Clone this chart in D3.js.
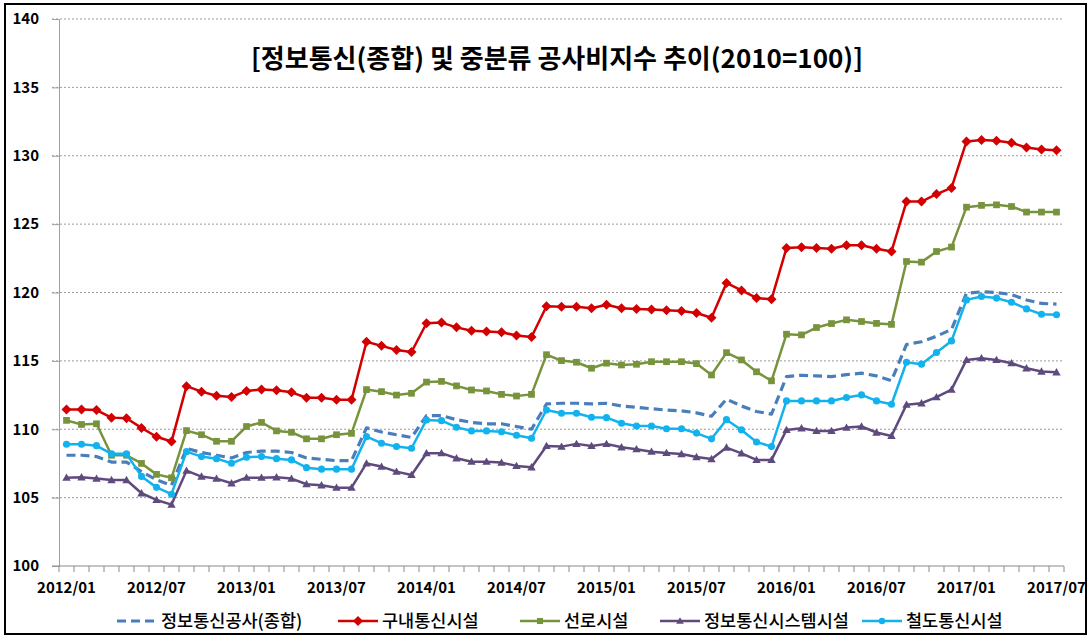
<!DOCTYPE html>
<html><head><meta charset="utf-8">
<script src="https://d3js.org/d3.v7.min.js"></script>
<style>
html,body{margin:0;padding:0;background:#fff;}
svg{display:block;}
text{font-family:"Noto Sans CJK KR","Noto Sans",sans-serif;}
</style></head>
<body><svg id="c" width="1089" height="636"></svg>
<script>
const months = ["2012/01","2012/02","2012/03","2012/04","2012/05","2012/06","2012/07","2012/08","2012/09","2012/10","2012/11","2012/12",
"2013/01","2013/02","2013/03","2013/04","2013/05","2013/06","2013/07","2013/08","2013/09","2013/10","2013/11","2013/12",
"2014/01","2014/02","2014/03","2014/04","2014/05","2014/06","2014/07","2014/08","2014/09","2014/10","2014/11","2014/12",
"2015/01","2015/02","2015/03","2015/04","2015/05","2015/06","2015/07","2015/08","2015/09","2015/10","2015/11","2015/12",
"2016/01","2016/02","2016/03","2016/04","2016/05","2016/06","2016/07","2016/08","2016/09","2016/10","2016/11","2016/12",
"2017/01","2017/02","2017/03","2017/04","2017/05","2017/06","2017/07"];
const xTickLabels = ["2012/01","2012/07","2013/01","2013/07","2014/01","2014/07","2015/01","2015/07","2016/01","2016/07","2017/01","2017/07"];
const yTicks = [100,105,110,115,120,125,130,135,140];
const seriesNames = ["정보통신공사(종합)","구내통신시설","선로시설","정보통신시스템시설","철도통신시설"];
const titleText = "[정보통신(종합) 및 중분류 공사비지수 추이(2010=100)]";

const composite = [108.1,108.1,108.0,107.6,107.6,106.9,106.3,105.9,108.6,108.3,
108.1,107.9,108.3,108.4,108.4,108.3,107.9,107.8,107.7,107.7,
110.1,109.8,109.6,109.4,111.0,111.0,110.7,110.5,110.4,110.4,
110.2,110.0,111.85,111.9,111.9,111.85,111.9,111.7,111.6,111.5,
111.4,111.35,111.2,110.95,112.2,111.7,111.3,111.1,113.85,113.95,
113.9,113.85,114.0,114.1,113.9,113.55,116.2,116.4,116.8,117.3,
119.95,120.05,120.0,119.85,119.45,119.2,119.15];
const premises = [111.45,111.45,111.4,110.85,110.8,110.1,109.45,109.1,113.15,112.75,
112.45,112.35,112.8,112.9,112.85,112.7,112.3,112.3,112.15,112.15,
116.4,116.1,115.8,115.65,117.75,117.8,117.45,117.2,117.15,117.1,
116.85,116.75,119.0,118.95,118.95,118.85,119.1,118.85,118.8,118.75,
118.7,118.65,118.5,118.15,120.7,120.15,119.6,119.5,123.25,123.3,
123.25,123.2,123.45,123.45,123.2,123.0,126.65,126.65,127.2,127.65,
131.05,131.15,131.1,130.95,130.6,130.45,130.4];
const lineFac = [110.65,110.35,110.4,108.1,108.1,107.5,106.7,106.45,109.9,109.6,
109.12,109.12,110.2,110.5,109.88,109.78,109.3,109.3,109.6,109.7,
112.9,112.75,112.5,112.63,113.45,113.5,113.17,112.87,112.8,112.55,
112.43,112.55,115.45,115.02,114.9,114.46,114.83,114.7,114.75,114.94,
114.94,114.94,114.8,113.97,115.6,115.07,114.2,113.54,116.95,116.9,
117.44,117.73,118.0,117.88,117.74,117.67,122.27,122.22,123.0,123.32,
126.24,126.37,126.41,126.29,125.88,125.88,125.88];
const systemFac = [106.46,106.49,106.39,106.29,106.29,105.32,104.83,104.49,106.97,106.54,
106.39,106.05,106.46,106.46,106.49,106.39,105.98,105.9,105.73,105.73,
107.5,107.27,106.9,106.66,108.25,108.25,107.88,107.63,107.63,107.56,
107.32,107.22,108.78,108.73,108.93,108.78,108.93,108.68,108.54,108.36,
108.27,108.19,107.97,107.82,108.66,108.24,107.76,107.76,109.95,110.07,
109.88,109.88,110.12,110.2,109.76,109.51,111.8,111.9,112.35,112.9,
115.07,115.2,115.07,114.83,114.46,114.22,114.17];
const railFac = [108.9,108.9,108.8,108.2,108.2,106.55,105.75,105.25,108.36,108.0,
107.85,107.51,107.95,108.0,107.85,107.76,107.19,107.08,107.08,107.08,
109.46,108.98,108.73,108.61,110.68,110.63,110.15,109.88,109.88,109.82,
109.56,109.34,111.41,111.17,111.17,110.88,110.85,110.44,110.24,110.24,
110.04,110.04,109.72,109.3,110.7,109.95,109.07,108.73,112.07,112.07,
112.07,112.07,112.32,112.51,112.07,111.83,114.9,114.76,115.61,116.46,
119.46,119.71,119.59,119.29,118.8,118.41,118.37];

const seriesValues = [composite, premises, lineFac, systemFac, railFac];
const styles = [
  {color:"#4A7EBB", dash:"9,5", width:3.2, marker:null},
  {color:"#D20000", dash:null, width:2.5, marker:"diamond"},
  {color:"#77933C", dash:null, width:2.5, marker:"square"},
  {color:"#5F4A7E", dash:null, width:2.5, marker:"triangle"},
  {color:"#12B2EE", dash:null, width:2.5, marker:"circle"}
];

const svg = d3.select("#c");
const W = 1089, H = 636;
const plot = {l:59, r:1064, t:19, b:566};

svg.append("rect").attr("x",0).attr("y",0).attr("width",W).attr("height",H).attr("fill","#fff");
// frame
svg.append("rect").attr("x",5).attr("y",4).attr("width",W-8).attr("height",H-6)
  .attr("fill","none").attr("stroke","#000").attr("stroke-width",2);

const x = d3.scaleBand().domain(months).range([plot.l, plot.r]).padding(0);
const xc = d => x(d) + x.bandwidth()/2;
const y = d3.scaleLinear().domain([100,140]).range([plot.b, plot.t]);

// gridlines
svg.append("g").selectAll("line").data(yTicks.filter(v=>v>100)).join("line")
  .attr("x1",plot.l-7).attr("x2",plot.r).attr("y1",d=>y(d)).attr("y2",d=>y(d))
  .attr("stroke","#9a9a9a").attr("stroke-width",1).attr("stroke-dasharray","2,2");

// y axis
const yAxis = d3.axisLeft(y).tickValues(yTicks).tickSize(7).tickPadding(13).tickFormat(d3.format("d"));
const gy = svg.append("g").attr("transform",`translate(${plot.l},0)`).call(yAxis);
gy.select(".domain").attr("stroke","#a0a0a0");
gy.selectAll(".tick line").attr("stroke","#a0a0a0");
gy.selectAll(".tick text").attr("font-size",15).attr("font-weight","bold").attr("fill","#000")
  .style("font-family","'Noto Sans CJK KR',sans-serif");

// x axis line
svg.append("line").attr("x1",plot.l-7).attr("x2",plot.r).attr("y1",plot.b).attr("y2",plot.b)
  .attr("stroke","#8a8a8a").attr("stroke-width",1);
// ticks between categories
const bounds = months.map(m=>x(m)).concat([plot.r]);
svg.append("g").selectAll("line").data(bounds).join("line")
  .attr("x1",d=>d).attr("x2",d=>d).attr("y1",plot.b).attr("y2",plot.b+6)
  .attr("stroke","#8a8a8a").attr("stroke-width",1);
svg.append("g").selectAll("text").data(xTickLabels).join("text")
  .attr("x",d=>xc(d)).attr("y",plot.b+27).attr("text-anchor","middle")
  .attr("font-size",15).attr("font-weight","bold").attr("fill","#000").text(d=>d);

// title
svg.append("text").attr("x",557).attr("y",68).attr("text-anchor","middle")
  .attr("font-size",26).attr("font-weight","bold").attr("fill","#000").text(titleText);

function drawMarker(g, type, cx, cy, color, s){
  if(type==="diamond"){
    g.append("path").attr("d",`M${cx},${cy-s}L${cx+s},${cy}L${cx},${cy+s}L${cx-s},${cy}Z`).attr("fill",color);
  } else if(type==="square"){
    g.append("rect").attr("x",cx-s*0.8).attr("y",cy-s*0.8).attr("width",s*1.6).attr("height",s*1.6).attr("fill",color);
  } else if(type==="triangle"){
    g.append("path").attr("d",`M${cx},${cy-s}L${cx+s},${cy+s*0.75}L${cx-s},${cy+s*0.75}Z`).attr("fill",color);
  } else if(type==="circle"){
    g.append("circle").attr("cx",cx).attr("cy",cy).attr("r",s*0.85).attr("fill",color);
  }
}

const line = d3.line().x((d,i)=>xc(months[i])).y(d=>y(d));
[0,1,2,3,4].forEach(k=>{
  const st = styles[k];
  const g = svg.append("g");
  g.append("path").datum(seriesValues[k]).attr("d",line).attr("fill","none")
    .attr("stroke",st.color).attr("stroke-width",st.width)
    .attr("stroke-dasharray",st.dash).attr("stroke-linejoin","round");
  if(st.marker){
    seriesValues[k].forEach((v,i)=>drawMarker(g, st.marker, xc(months[i]), y(v), st.color, st.marker==="diamond"?5:4.2));
  }
});

// legend
const legX = [117, 338, 520, 660, 862];
const legY = 621;
seriesNames.forEach((name,k)=>{
  const st = styles[k];
  const g = svg.append("g");
  g.append("line").attr("x1",legX[k]).attr("x2",legX[k]+40).attr("y1",legY).attr("y2",legY)
    .attr("stroke",st.color).attr("stroke-width",st.width).attr("stroke-dasharray",st.dash);
  if(st.marker) drawMarker(g, st.marker, legX[k]+20, legY, st.color, st.marker==="diamond"?5:3.8);
  g.append("text").attr("x",legX[k]+44).attr("y",legY+6).attr("font-size",17.5).attr("fill","#000")
    .attr("font-weight",500).text(name);
});
</script></body></html>
